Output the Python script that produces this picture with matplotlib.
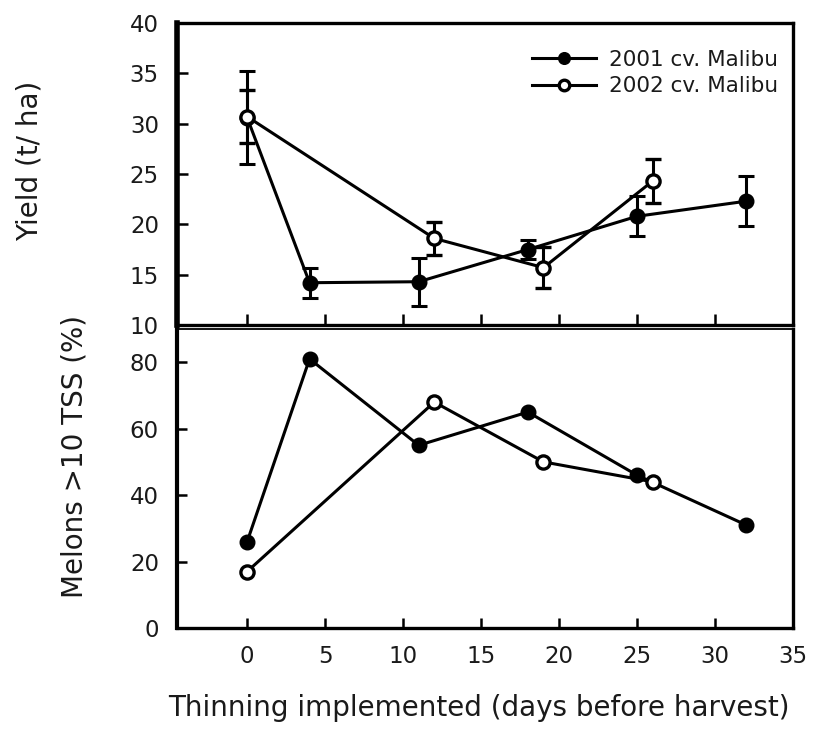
import matplotlib.pyplot as plt
from matplotlib.lines import Line2D

# Data
days_01 = [0, 4, 11, 18, 25, 32]
yield_01 = [30.6, 14.2, 14.3, 17.5, 20.8, 22.3]
yield_err_01 = [4.6, 1.5, 2.4, 0.9, 2.0, 2.5]
tss_01 = [26, 81, 55, 65, 46, 31]

days_02 = [0, 12, 19, 26]
yield_02 = [30.7, 18.6, 15.7, 24.3]
yield_err_02 = [2.6, 1.6, 2.0, 2.2]
tss_02 = [17, 68, 50, 44]

labels = ['2001 cv. Malibu', '2002 cv. Malibu']

plt.rcParams['font.family'] = ['DejaVu Sans']
txt_col = '#1a1a1a'

fig = plt.figure(figsize=(8.13, 7.31), dpi=100)
ax1 = fig.add_axes([0.2177, 0.5554, 0.7577, 0.4131])
ax2 = fig.add_axes([0.2177, 0.1409, 0.7577, 0.4090])

lw = 2.2
ms = 10.5
style_01 = dict(color='black', lw=lw, marker='o', ms=ms, mfc='black', mec='black')
style_02 = dict(color='black', lw=lw, marker='o', ms=ms - 1, mfc='white',
                mec='black', mew=2.4)

# top panel: yield
ax1.errorbar(days_01, yield_01, yerr=yield_err_01, capsize=6, capthick=2.2,
             elinewidth=2.2, **style_01)
ax1.errorbar(days_02, yield_02, yerr=yield_err_02, capsize=6, capthick=2.2,
             elinewidth=2.2, **style_02)
ax1.set_xlim(-4.5, 35)
ax1.set_ylim(10, 40)
ax1.set_yticks(range(10, 41, 5))
ax1.set_xticks(range(0, 36, 5))
ax1.tick_params(axis='x', direction='in', length=8, width=1.8, labelbottom=False)
ax1.tick_params(axis='y', direction='in', length=8, width=1.8, labelsize=16.5,
                pad=13, labelcolor=txt_col)
ax1.set_ylabel('Yield (t/ ha)', fontsize=20, color=txt_col)
ax1.yaxis.set_label_coords(0.053, 0.78, transform=fig.transFigure)

handles = [Line2D([], [], **style_01), Line2D([], [], **style_02)]
leg = ax1.legend(handles, labels, loc='upper right',
                 bbox_to_anchor=(0.99, 0.94), frameon=False, fontsize=15.5,
                 handlelength=3.0, handletextpad=0.6, borderaxespad=0,
                 labelspacing=0.3, markerscale=0.8)
for t in leg.get_texts():
    t.set_color(txt_col)

# bottom panel: TSS
ax2.plot(days_01, tss_01, **style_01)
ax2.plot(days_02, tss_02, **style_02)
ax2.set_xlim(-4.5, 35)
ax2.set_ylim(0, 90)
ax2.set_yticks(range(0, 81, 20))
ax2.set_xticks(range(0, 36, 5))
ax2.tick_params(axis='both', direction='in', length=7, width=1.8,
                labelsize=16.5, labelcolor=txt_col)
ax2.tick_params(axis='y', pad=13)
ax2.tick_params(axis='x', pad=12)
ax2.set_ylabel('Melons >10 TSS (%)', fontsize=20, color=txt_col)
ax2.yaxis.set_label_coords(0.109, 0.375, transform=fig.transFigure)
ax2.set_xlabel('Thinning implemented (days before harvest)', fontsize=20,
               color=txt_col)
ax2.xaxis.set_label_coords(0.589, 0.05, transform=fig.transFigure)

for ax in (ax1, ax2):
    for s in ax.spines.values():
        s.set_linewidth(2.4)
ax1.spines['left'].set_linewidth(4)
ax2.spines['left'].set_linewidth(3)
ax2.spines['top'].set_linewidth(1.3)

fig.savefig('out.png', dpi=100)
